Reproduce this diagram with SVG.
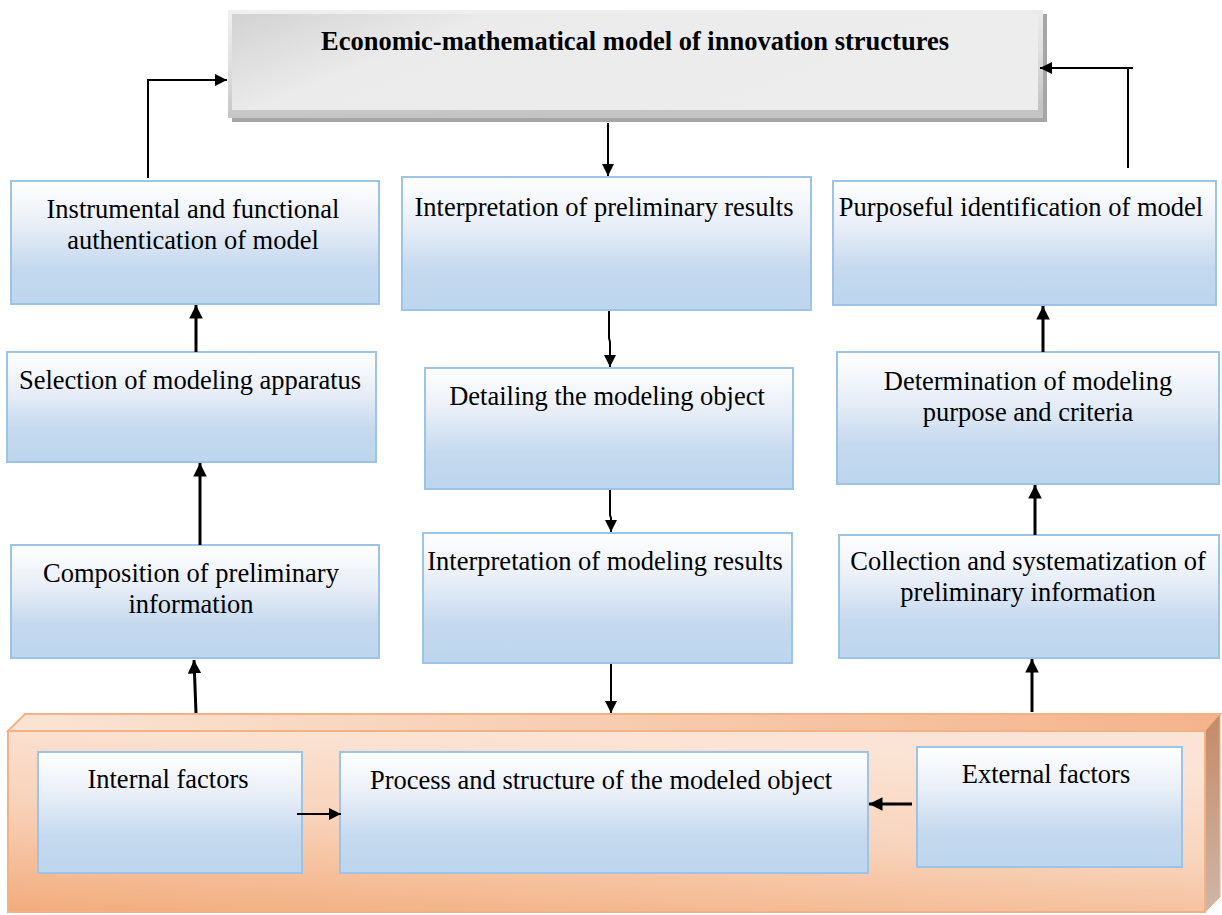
<svg xmlns="http://www.w3.org/2000/svg" width="1222" height="915" viewBox="0 0 1222 915">
<defs>
<linearGradient id="blue" x1="0" y1="0" x2="0" y2="1">
<stop offset="0" stop-color="#ffffff"/>
<stop offset="0.35" stop-color="#e9eff8"/>
<stop offset="0.7" stop-color="#c5d9ee"/>
<stop offset="1" stop-color="#bdd6ee"/>
</linearGradient>
<linearGradient id="grey" x1="0" y1="0" x2="0.15" y2="1">
<stop offset="0" stop-color="#f0f0f0"/>
<stop offset="0.5" stop-color="#e0e0e0"/>
<stop offset="1" stop-color="#c4c4c4"/>
</linearGradient>
<linearGradient id="greyIn" x1="0" y1="0" x2="1" y2="0.3">
<stop offset="0" stop-color="#d2d2d2"/>
<stop offset="0.3" stop-color="#ebebeb"/>
<stop offset="1" stop-color="#ededed"/>
</linearGradient>
<linearGradient id="orange" x1="0" y1="1" x2="0.35" y2="0">
<stop offset="0" stop-color="#f2ac7c"/>
<stop offset="0.55" stop-color="#f8d3bb"/>
<stop offset="1" stop-color="#fbe4d5"/>
</linearGradient>
<linearGradient id="orangeTop" x1="0" y1="0" x2="1" y2="0">
<stop offset="0" stop-color="#fbe4d5"/>
<stop offset="1" stop-color="#f4b48a"/>
</linearGradient>
<linearGradient id="orangeSide" x1="0" y1="0" x2="0" y2="1">
<stop offset="0" stop-color="#c48a66"/>
<stop offset="1" stop-color="#d0b6a8"/>
</linearGradient>
<marker id="ah" viewBox="0 0 10 10" refX="10" refY="5" markerWidth="4.5" markerHeight="4.5" markerUnits="strokeWidth" orient="auto">
<path d="M0,0 L10,5 L0,10 z" fill="#000"/>
</marker>
<marker id="ahs" viewBox="0 0 10 10" refX="10" refY="5" markerWidth="6" markerHeight="6" markerUnits="strokeWidth" orient="auto">
<path d="M0,0 L10,5 L0,10 z" fill="#000"/>
</marker>
</defs>
<style>
.box{fill:url(#blue);stroke:#9dc3e6;stroke-width:2}
.t{font-family:"Liberation Serif","Times New Roman",serif;font-size:26.5px;fill:#000;text-anchor:middle}
.title{font-family:"Liberation Serif","Times New Roman",serif;font-size:26.5px;font-weight:bold;fill:#000;text-anchor:middle}
.c{fill:none;stroke:#000;stroke-width:3}
.cs{fill:none;stroke:#000;stroke-width:2}
</style>

<g id="top">
<rect x="232" y="14" width="815" height="108" fill="#a6a6a6"/>
<rect x="228" y="10" width="815" height="108" fill="url(#grey)"/>
<rect x="232" y="14" width="806" height="96" fill="url(#greyIn)"/>
<text class="title" x="635" y="50">Economic-mathematical model of innovation structures</text>
</g>

<g id="bottom">
<polygon points="25,714 1220,714 1205,731 8,731" fill="url(#orangeTop)" stroke="#f4b183" stroke-width="2"/>
<polygon points="1205,731 1220,714 1220,897 1205,912" fill="url(#orangeSide)" stroke="#f4b183" stroke-width="1"/>
<rect x="8" y="731" width="1197" height="181" fill="url(#orange)" stroke="#f4b183" stroke-width="2"/>
</g>

<g id="n1"><rect class="box" x="11" y="181" width="368" height="123"/>
<text class="t" x="193" y="218">Instrumental and functional</text>
<text class="t" x="193" y="249">authentication of model</text></g>

<g id="n2"><rect class="box" x="7" y="352" width="369" height="110"/>
<text class="t" x="190" y="389">Selection of modeling apparatus</text></g>

<g id="n3"><rect class="box" x="11" y="545" width="368" height="113"/>
<text class="t" x="191" y="582">Composition of preliminary</text>
<text class="t" x="191" y="613">information</text></g>

<g id="n4"><rect class="box" x="402" y="177" width="409" height="133"/>
<text class="t" x="604" y="216">Interpretation of preliminary results</text></g>

<g id="n5"><rect class="box" x="425" y="368" width="368" height="121"/>
<text class="t" x="607" y="405">Detailing the modeling object</text></g>

<g id="n6"><rect class="box" x="423" y="533" width="369" height="130"/>
<text class="t" x="605" y="570">Interpretation of modeling results</text></g>

<g id="n7"><rect class="box" x="833" y="181" width="383" height="124"/>
<text class="t" x="1021" y="216">Purposeful identification of model</text></g>

<g id="n8"><rect class="box" x="837" y="352" width="382" height="132"/>
<text class="t" x="1028" y="390">Determination of modeling</text>
<text class="t" x="1028" y="421">purpose and criteria</text></g>

<g id="n9"><rect class="box" x="839" y="535" width="380" height="123"/>
<text class="t" x="1028" y="570">Collection and systematization of</text>
<text class="t" x="1028" y="601">preliminary information</text></g>

<g id="n10"><rect class="box" x="38" y="752" width="264" height="121"/>
<text class="t" x="168" y="788">Internal factors</text></g>

<g id="n11"><rect class="box" x="340" y="752" width="528" height="121"/>
<text class="t" x="601" y="789">Process and structure of the modeled object</text></g>

<g id="n12"><rect class="box" x="917" y="747" width="265" height="120"/>
<text class="t" x="1046" y="783">External factors</text></g>

<g id="connectors">
<path class="cs" d="M148,178 V80 H227" marker-end="url(#ahs)"/>
<path class="cs" d="M1128,168 V68 H1040" marker-end="url(#ahs)"/>
<path class="cs" d="M1133,68 H1128"/>
<path class="cs" d="M608,123 V176" marker-end="url(#ahs)"/>
<path class="cs" d="M609,311 V338 L610,342 V367" marker-end="url(#ahs)"/>
<path class="cs" d="M610,490 V515 L611,518 V532" marker-end="url(#ahs)"/>
<path class="cs" d="M611,664 V713" marker-end="url(#ahs)"/>
<path class="c" d="M196,713 L194,660" marker-end="url(#ah)"/>
<path class="c" d="M200,545 V463" marker-end="url(#ah)"/>
<path class="c" d="M196,352 V305" marker-end="url(#ah)"/>
<path class="c" d="M1032,712 V659" marker-end="url(#ah)"/>
<path class="c" d="M1035,535 V485" marker-end="url(#ah)"/>
<path class="c" d="M1043,352 V306" marker-end="url(#ah)"/>
<path class="cs" d="M297,814 H341" marker-end="url(#ahs)"/>
<path class="c" d="M912,804 H869" marker-end="url(#ah)"/>
</g>
</svg>
